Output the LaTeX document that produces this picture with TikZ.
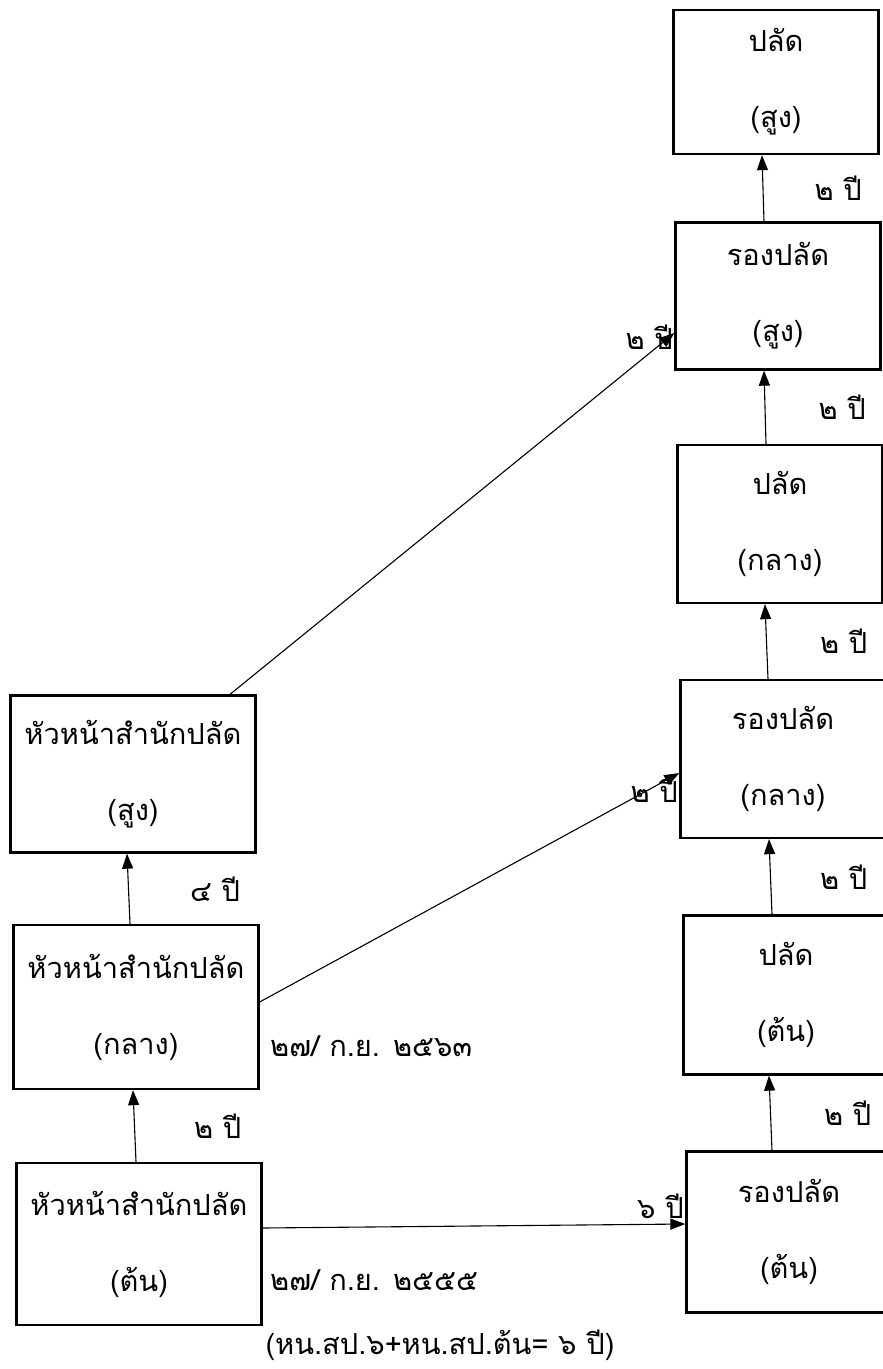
\documentclass[tikz,border=0pt]{standalone}
\usepackage{fontspec}
\newfontfamily\thaifont[Script=Thai]{Loma}
\usepackage{tikz}
\usetikzlibrary{arrows.meta, positioning, calc}

\begin{document}
\begin{tikzpicture}[x=1pt, y=-1pt,
    rankbox/.style={draw, line width=2.3pt, align=center, inner sep=0pt,
        font=\fontsize{29}{76}\selectfont\thaifont},
    rightbox/.style={rankbox, minimum width=205pt},
    leftbox/.style={rankbox, minimum width=245pt},
    uparrow/.style={-{Triangle[length=15pt, width=11pt]}, line width=1.1pt},
    yearlabel/.style={font=\fontsize{29}{34}\selectfont\thaifont, inner sep=1pt}]
    \useasboundingbox (0,0) rectangle (883,1369);

    % Right column
    \node[rightbox, minimum height=144pt] (ps) at (776,82) {ปลัด\\(สูง)};
    \node[rightbox, minimum height=147pt] (rs) at (778,296) {รองปลัด\\(สูง)};
    \node[rightbox, minimum height=158pt] (pm) at (780,524) {ปลัด\\(กลาง)};
    \node[rightbox, minimum height=158pt] (rm) at (783,759) {รองปลัด\\(กลาง)};
    \node[rightbox, minimum height=159pt] (pl) at (786,995) {ปลัด\\(ต้น)};
    \node[rightbox, minimum height=161pt] (rl) at (789,1232) {รองปลัด\\(ต้น)};

    % Left column
    \node[leftbox, minimum height=157pt] (hs) at (133,774) {หัวหน้าสำนักปลัด\\(สูง)};
    \node[leftbox, minimum height=164pt] (hm) at (136,1007) {หัวหน้าสำนักปลัด\\(กลาง)};
    \node[leftbox, minimum height=162pt] (hl) at (139,1244) {หัวหน้าสำนักปลัด\\(ต้น)};

    % Steps up the right column
    \draw[uparrow] ([xshift=-14pt]rs.north) -- ([xshift=-14pt]ps.south)
        node[yearlabel, midway, anchor=west, xshift=50pt] {๒ ปี};
    \draw[uparrow] ([xshift=-14pt]pm.north) -- ([xshift=-14pt]rs.south)
        node[yearlabel, midway, anchor=west, xshift=52pt] {๒ ปี};
    \draw[uparrow] ([xshift=-15pt]rm.north) -- ([xshift=-15pt]pm.south)
        node[yearlabel, midway, anchor=west, xshift=52pt] {๒ ปี};
    \draw[uparrow] ([xshift=-14pt]pl.north) -- ([xshift=-14pt]rm.south)
        node[yearlabel, midway, anchor=west, xshift=48pt] {๒ ปี};
    \draw[uparrow] ([xshift=-17pt]rl.north) -- ([xshift=-17pt]pl.south)
        node[yearlabel, midway, anchor=west, xshift=52pt] {๒ ปี};

    % Steps up the left column
    \draw[uparrow] ([xshift=-6pt]hm.north) -- ([xshift=-6pt]hs.south)
        node[yearlabel, midway, anchor=west, xshift=60pt] {๔ ปี};
    \draw[uparrow] ([xshift=-3pt]hl.north) -- ([xshift=-3pt]hm.south)
        node[yearlabel, midway, anchor=west, xshift=58pt] {๒ ปี};

    % Across
    \draw[uparrow] ([xshift=97pt]hs.north) -- ([yshift=-37pt]rs.west)
        node[yearlabel, anchor=east, yshift=-4pt] {๒ ปี};
    \draw[uparrow] ([yshift=5pt]hm.east) -- ([yshift=-14pt]rm.west)
        node[yearlabel, anchor=north east, yshift=-3pt] {๒ ปี};
    \draw[uparrow] ([yshift=16pt]hl.east) -- ([yshift=8pt]rl.west)
        node[yearlabel, anchor=south east, yshift=4pt] {๖ ปี};

    % Dates and note
    \node[yearlabel, anchor=west] (datemid) at (269,1046) {๒๗/ ก.ย. ๒๕๖๓};
    \node[yearlabel, anchor=west] (datelow) at (269,1280) {๒๗/ ก.ย. ๒๕๕๕};
    \node[yearlabel] (note) at (440,1345) {(หน.สป.๖+หน.สป.ต้น= ๖ ปี)};

\end{tikzpicture}
\end{document}
